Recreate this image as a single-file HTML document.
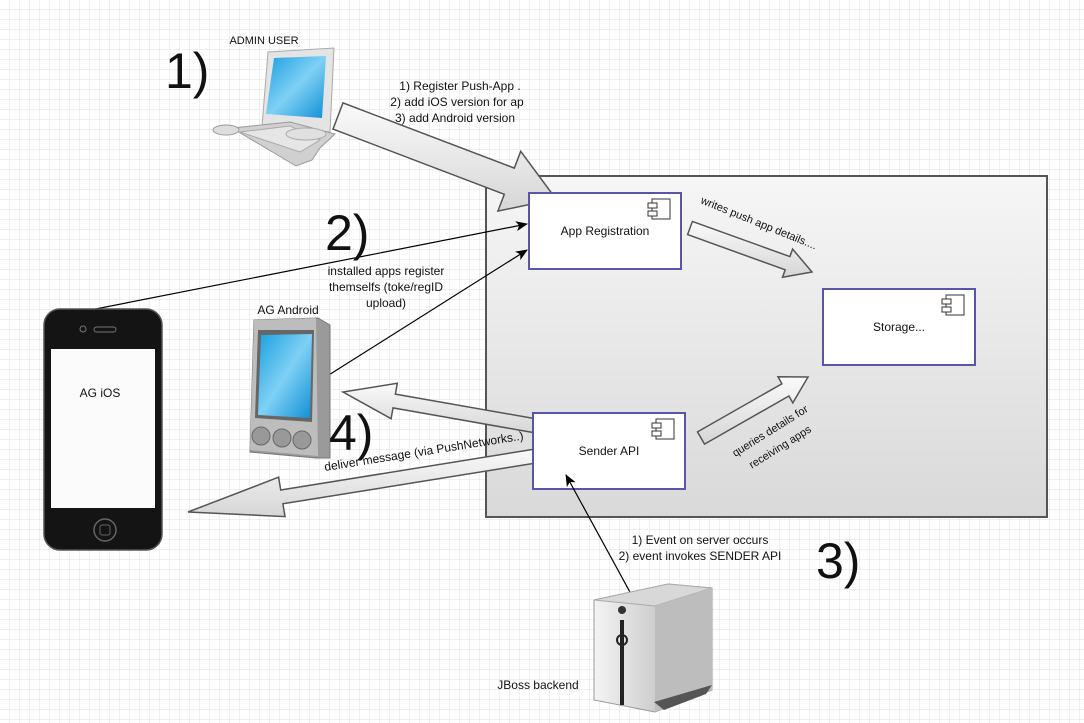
<!DOCTYPE html>
<html><head><meta charset="utf-8"><style>
body{margin:0;width:1084px;height:723px;overflow:hidden;background:#fff;font-family:"Liberation Sans",sans-serif}
svg{display:block}
text{font-family:"Liberation Sans",sans-serif;fill:#111}
</style></head><body>
<svg id="s" width="1084" height="723" viewBox="0 0 1084 723" xmlns="http://www.w3.org/2000/svg">
<defs>
<pattern id="g" width="10" height="10" patternUnits="userSpaceOnUse"><path d="M10 0V10H0" fill="none" stroke="#e0e0e0" stroke-width="1"/></pattern>
<linearGradient id="cg" x1="0" y1="0" x2="0" y2="1"><stop offset="0" stop-color="#f6f6f6"/><stop offset="1" stop-color="#d9d9d9"/></linearGradient>
<linearGradient id="ag" x1="0" y1="0" x2="0" y2="1"><stop offset="0" stop-color="#fafafa"/><stop offset="1" stop-color="#d6d6d6"/></linearGradient>
<linearGradient id="scr" x1="0" y1="0" x2="1" y2="1"><stop offset="0" stop-color="#1aa0e0"/><stop offset="0.5" stop-color="#7fd0f5"/><stop offset="1" stop-color="#0e8fd4"/></linearGradient>
<linearGradient id="srv" x1="0" y1="0" x2="1" y2="0"><stop offset="0" stop-color="#f4f4f4"/><stop offset="0.6" stop-color="#c8c8c8"/><stop offset="1" stop-color="#e8e8e8"/></linearGradient>
<marker id="m" markerWidth="12" markerHeight="10" refX="11" refY="5" orient="auto" markerUnits="userSpaceOnUse"><path d="M0,0 L12,5 L0,10 L3,5z" fill="#000"/></marker>
</defs>
<rect width="1084" height="723" fill="url(#g)"/>
<rect x="486" y="176" width="561" height="341" fill="url(#cg)" stroke="#555" stroke-width="2"/>
<g id="arrows"></g>
<g fill="#fff" stroke="#5b55a8" stroke-width="2">
<rect x="529" y="193" width="152" height="76"/>
<rect x="823" y="289" width="152" height="76"/>
<rect x="533" y="413" width="152" height="76"/>
</g>
<g fill="#fff" stroke="#333" stroke-width="1">
<rect x="652" y="199" width="18" height="20"/><rect x="648" y="203" width="9" height="5"/><rect x="648" y="211" width="9" height="5"/>
<rect x="946" y="295" width="18" height="20"/><rect x="942" y="299" width="9" height="5"/><rect x="942" y="307" width="9" height="5"/>
<rect x="656" y="419" width="18" height="20"/><rect x="652" y="423" width="9" height="5"/><rect x="652" y="431" width="9" height="5"/>
</g>
<text x="605" y="235" font-size="12" text-anchor="middle">App Registration</text>
<text x="899" y="331" font-size="12" text-anchor="middle">Storage...</text>
<text x="609" y="455" font-size="12" text-anchor="middle">Sender API</text>
<g stroke="#000" stroke-width="1.2" fill="none" marker-end="url(#m)">
<line x1="70" y1="314" x2="527" y2="224"/>
<line x1="324" y1="378" x2="527" y2="250"/>
<line x1="654" y1="636" x2="566" y2="475"/>
</g>
<rect x="44" y="309" width="118" height="241" rx="16" fill="#141414" stroke="#555" stroke-width="1.5"/>
<rect x="51" y="349" width="104" height="159" fill="#fbfbfb"/>
<circle cx="83" cy="329" r="3" fill="none" stroke="#777"/>
<rect x="94" y="327" width="22" height="5" rx="2.5" fill="none" stroke="#777"/>
<circle cx="105" cy="530" r="11" fill="none" stroke="#666" stroke-width="1.5"/>
<rect x="100" y="525" width="10" height="10" rx="2" fill="none" stroke="#666"/>
<text x="100" y="397" font-size="12" text-anchor="middle">AG iOS</text>
<path d="M254 320 L318 318 L330 325 L330 458 L316 458 L250 452 Z" fill="#9a9a9a" stroke="#777"/>
<path d="M254 320 L316 318 L318 456 L250 450 Z" fill="#bdbdbd"/>
<path d="M258 330 L314 330 L312 422 L255 418 Z" fill="#666"/>
<path d="M261 335 L312 334 L310 418 L258 415 Z" fill="url(#scr)"/>
<circle cx="261" cy="436" r="9" fill="#999" stroke="#666"/><circle cx="282" cy="438" r="9" fill="#999" stroke="#666"/><circle cx="302" cy="440" r="9" fill="#999" stroke="#666"/>
<text x="288" y="314" font-size="12" text-anchor="middle">AG Android</text>
<!-- monitor -->
<path d="M268 52 L334 48 L330 132 L262 126 Z" fill="#e4e4e4" stroke="#aaa"/>
<path d="M274 58 L326 56 L322 118 L266 114 Z" fill="url(#scr)"/>
<path d="M232 128 L290 122 L335 134 L320 148 L312 160 L296 166 Z" fill="#d0d0d0" stroke="#999"/>
<path d="M240 132 L290 126 L320 140 L300 152 Z" fill="#e6e6e6" stroke="#aaa"/>
<ellipse cx="226" cy="130" rx="13" ry="5" fill="#ddd" stroke="#999"/>
<ellipse cx="306" cy="134" rx="20" ry="6" fill="#e0e0e0" stroke="#aaa"/>
<text x="264" y="44" font-size="11" text-anchor="middle">ADMIN USER</text>
<path d="M594 600 L668 584 L712 588 L712 690 L655 712 L594 700 Z" fill="url(#srv)" stroke="#999"/>
<path d="M594 600 L668 584 L712 588 L655 606 Z" fill="#d8d8d8" stroke="#aaa"/>
<path d="M655 606 L712 588 L712 690 L655 712 Z" fill="#bdbdbd"/>
<path d="M654 702 L664 710 L706 694 L712 685 Z" fill="#555"/>
<circle cx="622" cy="610" r="4" fill="#333"/>
<rect x="620" y="620" width="4" height="85" fill="#222"/>
<circle cx="622" cy="640" r="5" fill="none" stroke="#222" stroke-width="2"/>
<text x="538" y="689" font-size="12" text-anchor="middle">JBoss backend</text>
<g font-size="50"><text x="165" y="88">1)</text><text x="325" y="250">2)</text><text x="329" y="450">4)</text><text x="816" y="578">3)</text></g>
<g font-size="12" text-anchor="middle">
<text x="460" y="90">1) Register Push-App  .</text>
<text x="457" y="106">2) add iOS version for ap</text>
<text x="455" y="122">3) add Android version</text>
<text x="386" y="275">installed apps register</text>
<text x="386" y="291">themselfs (toke/regID</text>
<text x="386" y="307">upload)</text>
<text x="700" y="544">1) Event on server occurs</text>
<text x="700" y="560">2) event invokes SENDER API</text>
</g>
<text font-size="11" transform="translate(700,203) rotate(22)">writes push app details....</text>
<text font-size="12" transform="translate(325,471) rotate(-9)">deliver message (via PushNetworks..)</text>
<text font-size="11" text-anchor="middle" transform="translate(772,434) rotate(-32)">queries details for</text>
<text font-size="11" text-anchor="middle" transform="translate(782,450) rotate(-32)">receiving apps</text>
</svg>
<script>
function ba(x1,y1,x2,y2,hw,hh,hl){
 var dx=x2-x1,dy=y2-y1,L=Math.hypot(dx,dy),ux=dx/L,uy=dy/L,nx=-uy,ny=ux;
 var bx=x2-ux*hl,by=y2-uy*hl;
 var p=[[x1+nx*hw,y1+ny*hw],[bx+nx*hw,by+ny*hw],[bx+nx*hh,by+ny*hh],[x2,y2],[bx-nx*hh,by-ny*hh],[bx-nx*hw,by-ny*hw],[x1-nx*hw,y1-ny*hw]];
 return '<polygon points="'+p.map(function(q){return q[0].toFixed(1)+','+q[1].toFixed(1)}).join(' ')+'" fill="url(#ag)" stroke="#555" stroke-width="1.5"/>';
}
document.getElementById('arrows').innerHTML=
 ba(338,116,556,199,14,32,50)+
 ba(690,228,812,272,7,15,26)+
 ba(701,438,808,377,7,15,26)+
 ba(542,427,343,392,7,18,52)+
 ba(542,455,188,512,7,20,95);
</script>
</body></html>
